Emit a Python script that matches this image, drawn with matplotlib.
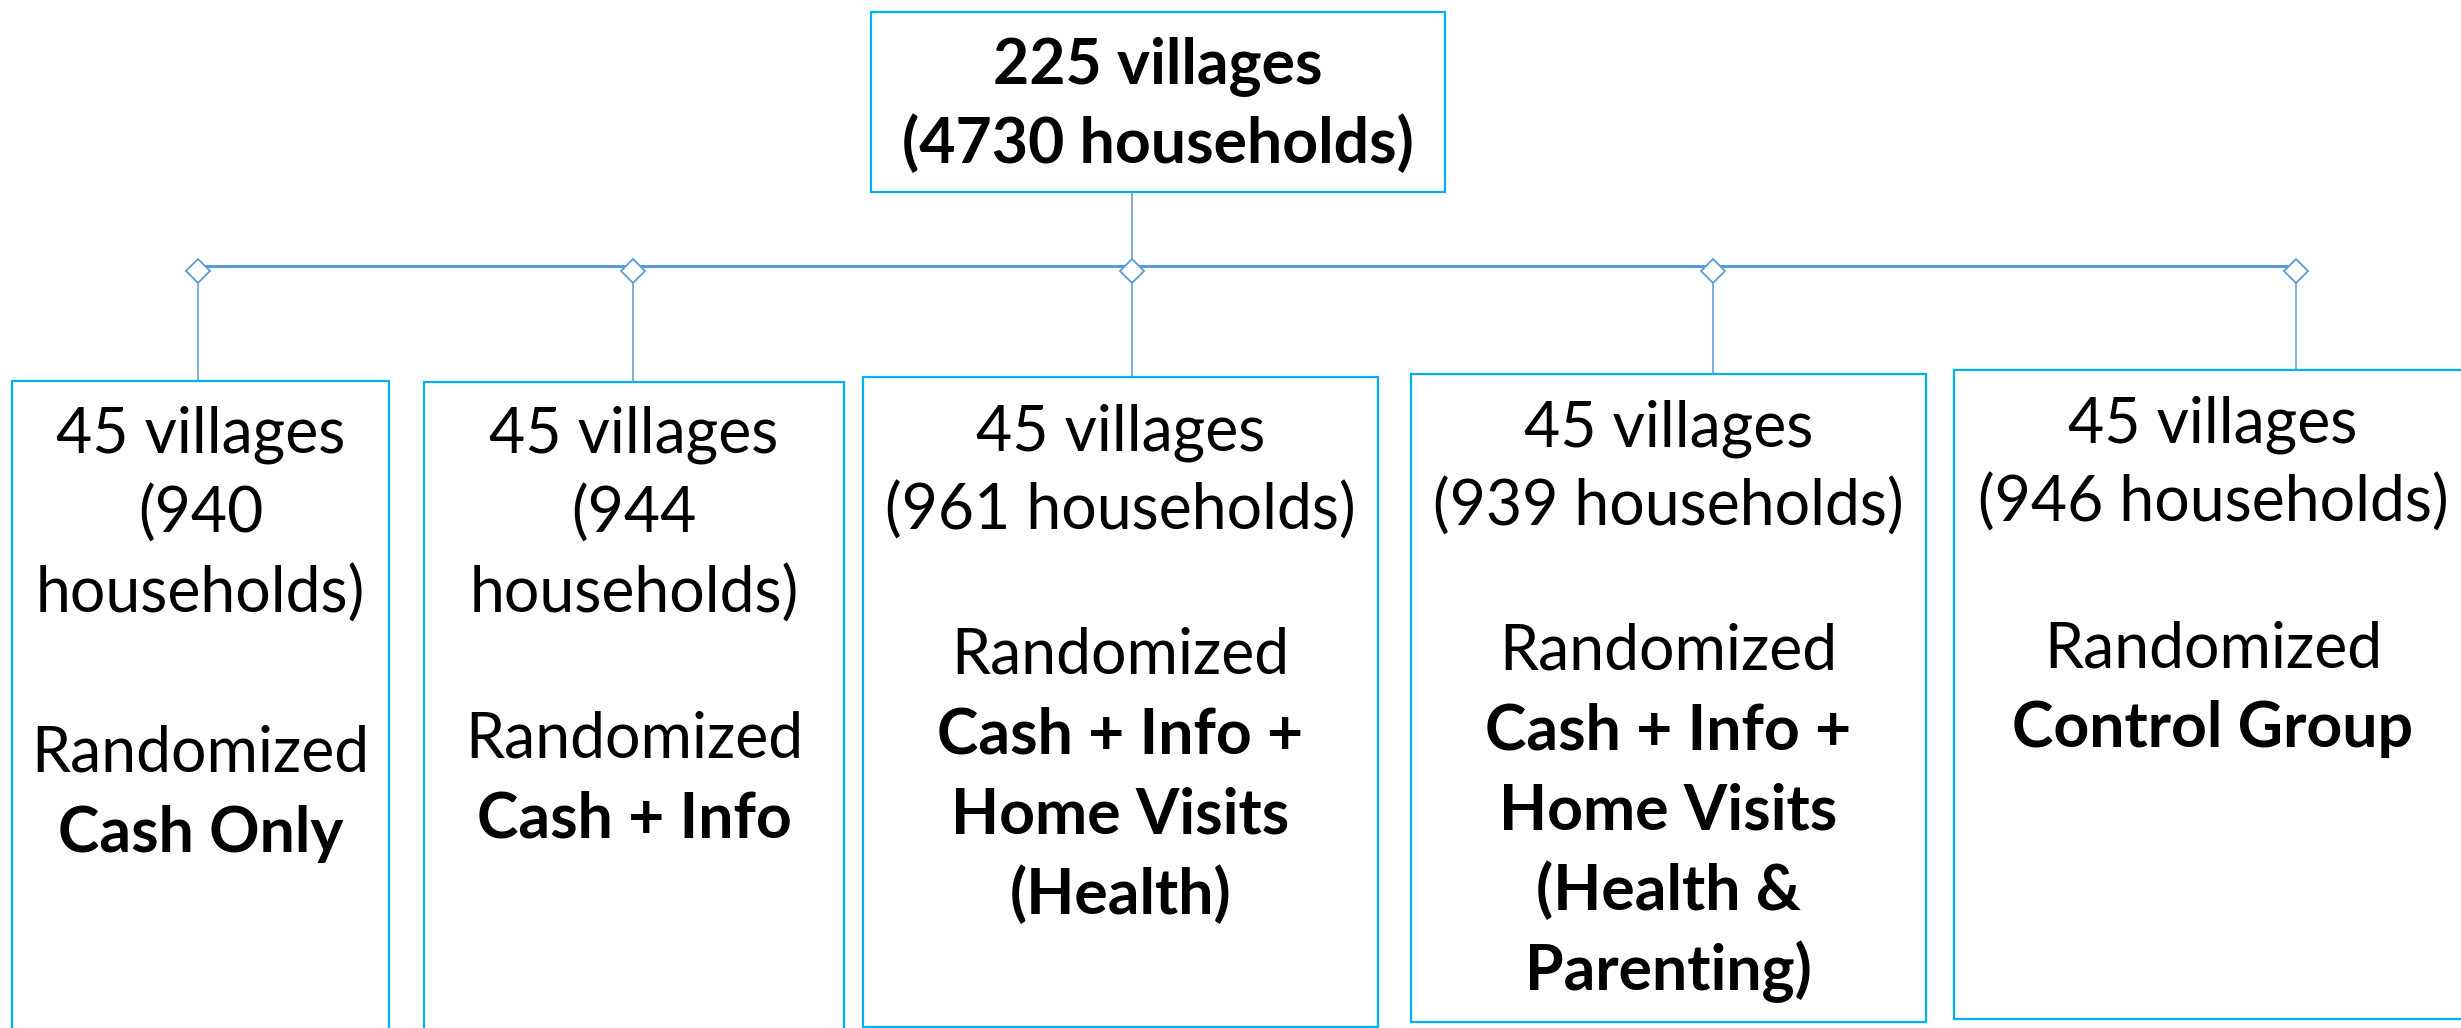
import matplotlib.pyplot as plt
from matplotlib.patches import Rectangle, Polygon

# data
total_villages = 225
total_households = 4730
arm_villages = [45, 45, 45, 45, 45]
arm_households = [940, 944, 961, 939, 946]
arm_names = ["Cash Only",
             "Cash + Info",
             "Cash + Info +\nHome Visits\n(Health)",
             "Cash + Info +\nHome Visits\n(Health &\nParenting)",
             "Control Group"]

# layout (pixels, y grows downward)
W, H = 2461, 1028
top_box = (871, 12, 1445, 192)
box_left = [12, 424, 863, 1411, 1954]
box_right = [389, 844, 1378, 1926, 2472]
box_top = [381, 382, 377, 374, 370]
box_bottom = [1040, 1040, 1027, 1022, 1019]
stem_x = [198, 633, 1132, 1713, 2296]
first_base = [453, 453, 450, 446, 442]
rand_base = [772, 757, 674, 670, 667]
wrap_households = [True, True, False, False, False]
bar_y, diamond_y, diamond_r = 266, 271, 12
line_step = 80

box_color = "#00B0F0"
link_color = "#5B9BD5"
font = "Lato"
fs = 45

fig = plt.figure(figsize=(W / 100, H / 100), dpi=100)
ax = fig.add_axes([0, 0, 1, 1])
ax.set_xlim(0, W)
ax.set_ylim(H, 0)
ax.axis("off")

# connectors
ax.plot([stem_x[0], stem_x[-1]], [bar_y, bar_y], color=link_color, lw=2.2, zorder=1)
ax.plot([stem_x[2], stem_x[2]], [top_box[3] - 4, diamond_y + diamond_r],
        color=link_color, lw=1.1, zorder=1)
for i, x in enumerate(stem_x):
    ax.plot([x, x], [diamond_y, box_top[i]], color=link_color, lw=1.1, zorder=1)
    ax.add_patch(Polygon([(x - diamond_r, diamond_y), (x, diamond_y - diamond_r),
                          (x + diamond_r, diamond_y), (x, diamond_y + diamond_r)],
                         closed=True, facecolor="white", edgecolor=link_color,
                         lw=1.3, zorder=3))

# top box
x0, y0, x1, y1 = top_box
ax.add_patch(Rectangle((x0, y0), x1 - x0, y1 - y0, facecolor="white",
                       edgecolor=box_color, lw=1.6, zorder=2))
cx = (x0 + x1) / 2
ax.text(cx, 83, f"{total_villages} villages", ha="center", va="baseline",
        fontsize=fs, fontweight="bold", family=font, zorder=4)
ax.text(cx, 163, f"({total_households} households)", ha="center", va="baseline",
        fontsize=fs, fontweight="bold", family=font, zorder=4)

# arm boxes
for i in range(len(arm_households)):
    l, r, t, b = box_left[i], box_right[i], box_top[i], box_bottom[i]
    ax.add_patch(Rectangle((l, t), r - l, b - t, facecolor="white",
                           edgecolor=box_color, lw=1.6, zorder=2))
    cx = (l + r) / 2
    if wrap_households[i]:
        upper = [f"{arm_villages[i]} villages", f"({arm_households[i]}", "households)"]
    else:
        upper = [f"{arm_villages[i]} villages", f"({arm_households[i]} households)"]
    for k, s in enumerate(upper):
        ax.text(cx, first_base[i] + k * line_step, s, ha="center", va="baseline",
                fontsize=fs, family=font, zorder=4)
    lower = ["Randomized"] + arm_names[i].split("\n")
    for k, s in enumerate(lower):
        ax.text(cx, rand_base[i] + k * line_step, s, ha="center", va="baseline",
                fontsize=fs, family=font, fontweight="normal" if k == 0 else "bold",
                zorder=4)

fig.savefig("out.png", dpi=100)
